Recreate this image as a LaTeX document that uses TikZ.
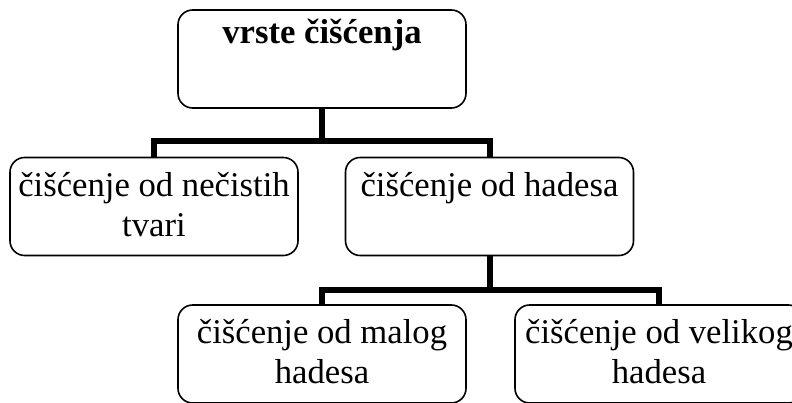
\documentclass[tikz,border=0pt]{standalone}
\usepackage{fontspec}
\setmainfont{Liberation Serif}
\newcommand{\boxtext}[2][29pt]{\parbox[c][73.5pt][t]{216pt}{\centering\rule{0pt}{#1}#2\par}}
\begin{document}
\begin{tikzpicture}[x=0.75pt,y=-0.75pt,
  box/.style={draw,line width=1.2pt,rounded corners=11pt,inner sep=0pt,
    font=\fontsize{26}{30}\selectfont},
  link/.style={line width=4.5pt}]
\useasboundingbox (0,0) rectangle (792,403);
\node [box] (vrste) at (322,59) {\boxtext[25pt]{\textbf{vrste čišćenja}}};
\node [box] (tvari) at (154,206.5) {\boxtext{čišćenje od nečistih\\tvari}};
\node [box] (hades) at (489.5,206.5) {\boxtext{čišćenje od hadesa}};
\node [box] (mali) at (322,354) {\boxtext{čišćenje od malog\\hadesa}};
\node [box] (veliki) at (659,354) {\boxtext{čišćenje od velikog\\hadesa}};
\draw [link] (vrste.south) -- ++(0,32) coordinate (j1);
\draw [link] (tvari.north) |- (j1) -| (hades.north);
\draw [link] (hades.south) -- ++(0,34) coordinate (j2);
\draw [link] (mali.north) |- (j2) -| (veliki.north);
\end{tikzpicture}
\end{document}
